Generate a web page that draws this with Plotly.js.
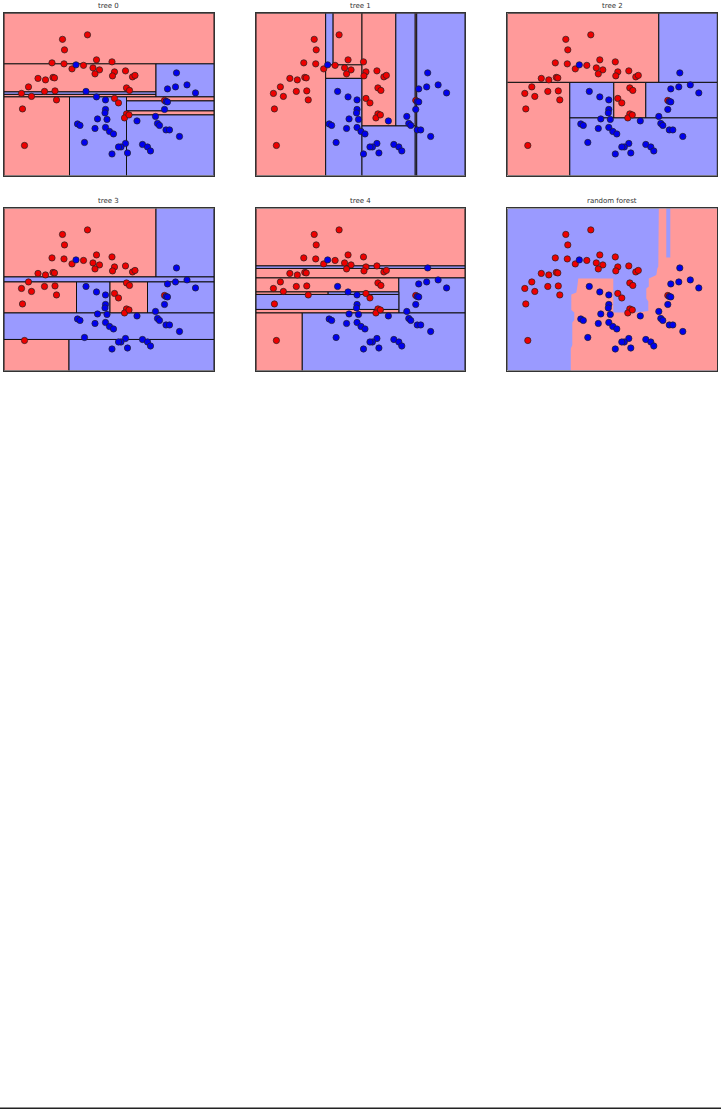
<!DOCTYPE html>
<html><head><meta charset="utf-8">
<script src="https://cdn.plot.ly/plotly-3.0.1.min.js"></script>
<style>html,body{margin:0;padding:0;background:#fff;}</style>
</head><body><div id="chart" style="width:721px;height:1109px;"></div>
<script>
// training points (two moons)
const class0X = [-0.03,-0.53,-0.49,-0.74,-0.50,-0.34,-0.11,0.15,0.08,0.21,0.12,-1.02,-0.87,-0.72,-0.69,-1.21,-1.35,-1.15,-0.89,-0.68,-0.65,-1.33,-1.29,0.46,0.51,0.47,0.73,0.87,0.92,0.75,0.81,0.51,0.59,0.75,0.71,0.80,1.51];
const class0Y = [1.41,1.32,1.11,0.85,0.83,0.73,0.80,0.91,0.75,0.71,0.63,0.54,0.51,0.56,0.55,0.37,0.24,0.18,0.28,0.29,0.11,-0.07,-0.80,0.87,0.67,0.59,0.69,0.57,0.60,0.35,0.30,0.14,0.05,-0.17,-0.25,-0.19,0.10];
const class1X = [-0.26,-0.06,0.15,0.33,0.33,0.32,0.17,0.36,-0.23,-0.18,0.12,0.33,0.41,0.49,-0.09,0.73,0.64,0.59,0.77,0.46,1.07,1.17,1.23,0.96,1.33,1.37,1.41,1.54,1.61,1.81,1.51,1.54,1.57,1.57,1.73,1.96,2.13,1.75];
const class1Y = [0.81,0.28,0.17,0.11,-0.08,-0.15,-0.27,-0.28,-0.37,-0.40,-0.46,-0.44,-0.52,-0.57,-0.74,-0.76,-0.83,-0.83,-0.95,-0.97,-0.78,-0.83,-0.91,-0.31,-0.22,-0.36,-0.40,-0.49,-0.49,-0.62,-0.08,0.08,0.07,0.33,0.37,0.41,0.25,0.65];

const panelTitles = ["tree 0","tree 1","tree 2","tree 3","tree 4","random forest"];

// tree leaves: [x0, x1, y0, y1, class]
const tree0 = [[-1.7,2.5,0.83,1.84,0],[-1.7,1.34,0.27,0.83,0],[-1.7,1.34,0.22,0.27,1],[-1.7,1.34,0.17,0.22,0],[1.34,2.5,0.17,0.83,1],[-1.7,-0.39,-1.4,0.17,0],[-0.39,0.75,-1.4,0.17,1],[0.75,2.5,0.09,0.17,0],[0.75,2.5,-0.11,0.09,1],[0.75,2.5,-0.19,-0.11,0],[0.75,2.5,-1.4,-0.19,1]];
const tree1 = [[-1.7,-0.30,-1.4,1.84,0],[-0.30,-0.15,0.81,1.84,1],[-0.15,0.43,0.81,1.84,0],[-0.30,0.43,0.54,0.81,0],[-0.30,0.43,-1.4,0.54,1],[0.43,1.11,-0.41,1.84,0],[1.11,1.50,-0.41,1.84,1],[1.50,1.53,-0.49,1.84,0],[0.43,1.50,-1.4,-0.41,1],[1.50,1.53,-1.4,-0.49,1],[1.53,2.5,-1.4,1.84,1]];
const tree2 = [[-1.7,1.33,0.46,1.84,0],[1.33,2.5,0.46,1.84,1],[-1.7,-0.45,-1.4,0.46,0],[-0.45,0.43,-0.25,0.46,1],[0.43,1.07,-0.25,0.46,0],[1.07,2.5,-0.25,0.46,1],[-0.45,2.5,-1.4,-0.25,1]];
const tree3 = [[-1.7,1.34,0.47,1.84,0],[1.34,2.5,0.47,1.84,1],[-1.7,2.5,0.37,0.47,1],[-1.7,-0.25,-0.25,0.37,0],[-0.25,0.42,-0.25,0.37,1],[0.42,1.17,-0.25,0.37,0],[1.17,2.5,-0.25,0.37,1],[-1.7,2.5,-0.78,-0.25,1],[-1.7,-0.40,-1.4,-0.78,0],[-0.40,2.5,-1.4,-0.78,1]];
const tree4 = [[-1.7,2.5,0.69,1.84,0],[-1.7,2.5,0.64,0.69,1],[-1.7,2.5,0.45,0.64,0],[-1.7,1.17,0.17,0.45,0],[1.17,2.5,-0.25,0.45,1],[-1.7,-0.25,0.12,0.17,0],[-0.25,1.17,0.12,0.17,1],[-1.7,1.17,-0.18,0.12,1],[-1.7,1.17,-0.25,-0.18,0],[-1.7,-0.77,-1.4,-0.25,0],[-0.77,2.5,-1.4,-0.25,1]];
const trees = [tree0, tree1, tree2, tree3, tree4];

// random forest: region predicted as class 1 (drawn pink)
const forestX = [-0.43,-0.43,-0.40,-0.40,-0.36,-0.36,-0.42,-0.42,-0.32,-0.30,-0.28,0.42,0.42,0.88,1.12,1.12,1.08,1.08,1.13,1.13,1.22,1.28,1.30,1.32,1.33,1.48,1.48,1.56,1.56,2.5,2.5];
const forestY = [-1.4,-0.96,-0.89,-0.44,-0.39,-0.24,-0.19,0.12,0.16,0.28,0.44,0.44,-0.24,-0.24,-0.21,-0.02,0.04,0.24,0.28,0.44,0.48,0.51,0.64,0.68,1.84,1.84,0.86,0.86,1.84,1.84,-1.4];

const xRange = [-1.7, 2.5], yRange = [-1.4, 1.84];
const colDom = [[4/721, 214/721],[256/721, 465/721],[507.3/721, 717.3/721]];
const rowDom = [[1-175.5/1109, 1-13.3/1109],[1-370.5/1109, 1-208.4/1109]];
const regionColors = ['#ff9a9a', '#9a9aff'];

const data = [], shapes = [], annotations = [];
const layout = {width:721, height:1109, margin:{l:0,r:0,t:0,b:0}, showlegend:false,
  paper_bgcolor:'#fff', plot_bgcolor:'#fff', font:{family:'DejaVu Sans'}};

for (let i = 0; i < 6; i++) {
  const r = Math.floor(i/3), c = i % 3;
  const ax = i === 0 ? '' : String(i+1);
  const axisBase = {showgrid:false, zeroline:false, showticklabels:false, ticks:'', showline:true, mirror:true, linecolor:'#333', linewidth:1, fixedrange:true};
  layout['xaxis'+ax] = Object.assign({}, axisBase, {domain: colDom[c], range: xRange, anchor: 'y'+ax});
  layout['yaxis'+ax] = Object.assign({}, axisBase, {domain: rowDom[r], range: yRange, anchor: 'x'+ax});
  const xref = 'x'+ax, yref = 'y'+ax;
  if (i < 5) {
    trees[i].forEach(l => shapes.push({type:'rect', xref, yref, x0:l[0], x1:l[1], y0:l[2], y1:l[3],
      fillcolor: regionColors[l[4]], line:{color:'#111', width:1}, layer:'below'}));
  } else {
    shapes.push({type:'rect', xref, yref, x0:xRange[0], x1:xRange[1], y0:yRange[0], y1:yRange[1], fillcolor:regionColors[1], line:{color:'#333', width:1}, layer:'below'});
    let p = 'M' + forestX.map((x,k) => x + ',' + forestY[k]).join('L') + 'Z';
    shapes.push({type:'path', xref, yref, path:p, fillcolor:regionColors[0], line:{width:0}, layer:'below'});
  }
  data.push({type:'scatter', mode:'markers', x:class0X, y:class0Y, xaxis:xref, yaxis:yref, hoverinfo:'skip',
    marker:{size:6.3, color:'#ee0000', line:{color:'#222', width:0.7}}});
  data.push({type:'scatter', mode:'markers', x:class1X, y:class1Y, xaxis:xref, yaxis:yref, hoverinfo:'skip',
    marker:{size:6.3, color:'#0000ee', line:{color:'#222', width:0.7}}});
  annotations.push({xref:'paper', yref:'paper', x:(colDom[c][0]+colDom[c][1])/2, y:rowDom[r][1], yanchor:'bottom', xanchor:'center',
    yshift:1, showarrow:false, text:panelTitles[i], font:{size:7, color:'#333', family:'DejaVu Sans'}});
}
shapes.push({type:'line', xref:'paper', yref:'paper', x0:0, x1:1, y0:0.0006, y1:0.0006, line:{color:'#222', width:1.5}});
layout.shapes = shapes;
layout.annotations = annotations;
Plotly.newPlot('chart', data, layout, {staticPlot:true, displayModeBar:false});
</script></body></html>
